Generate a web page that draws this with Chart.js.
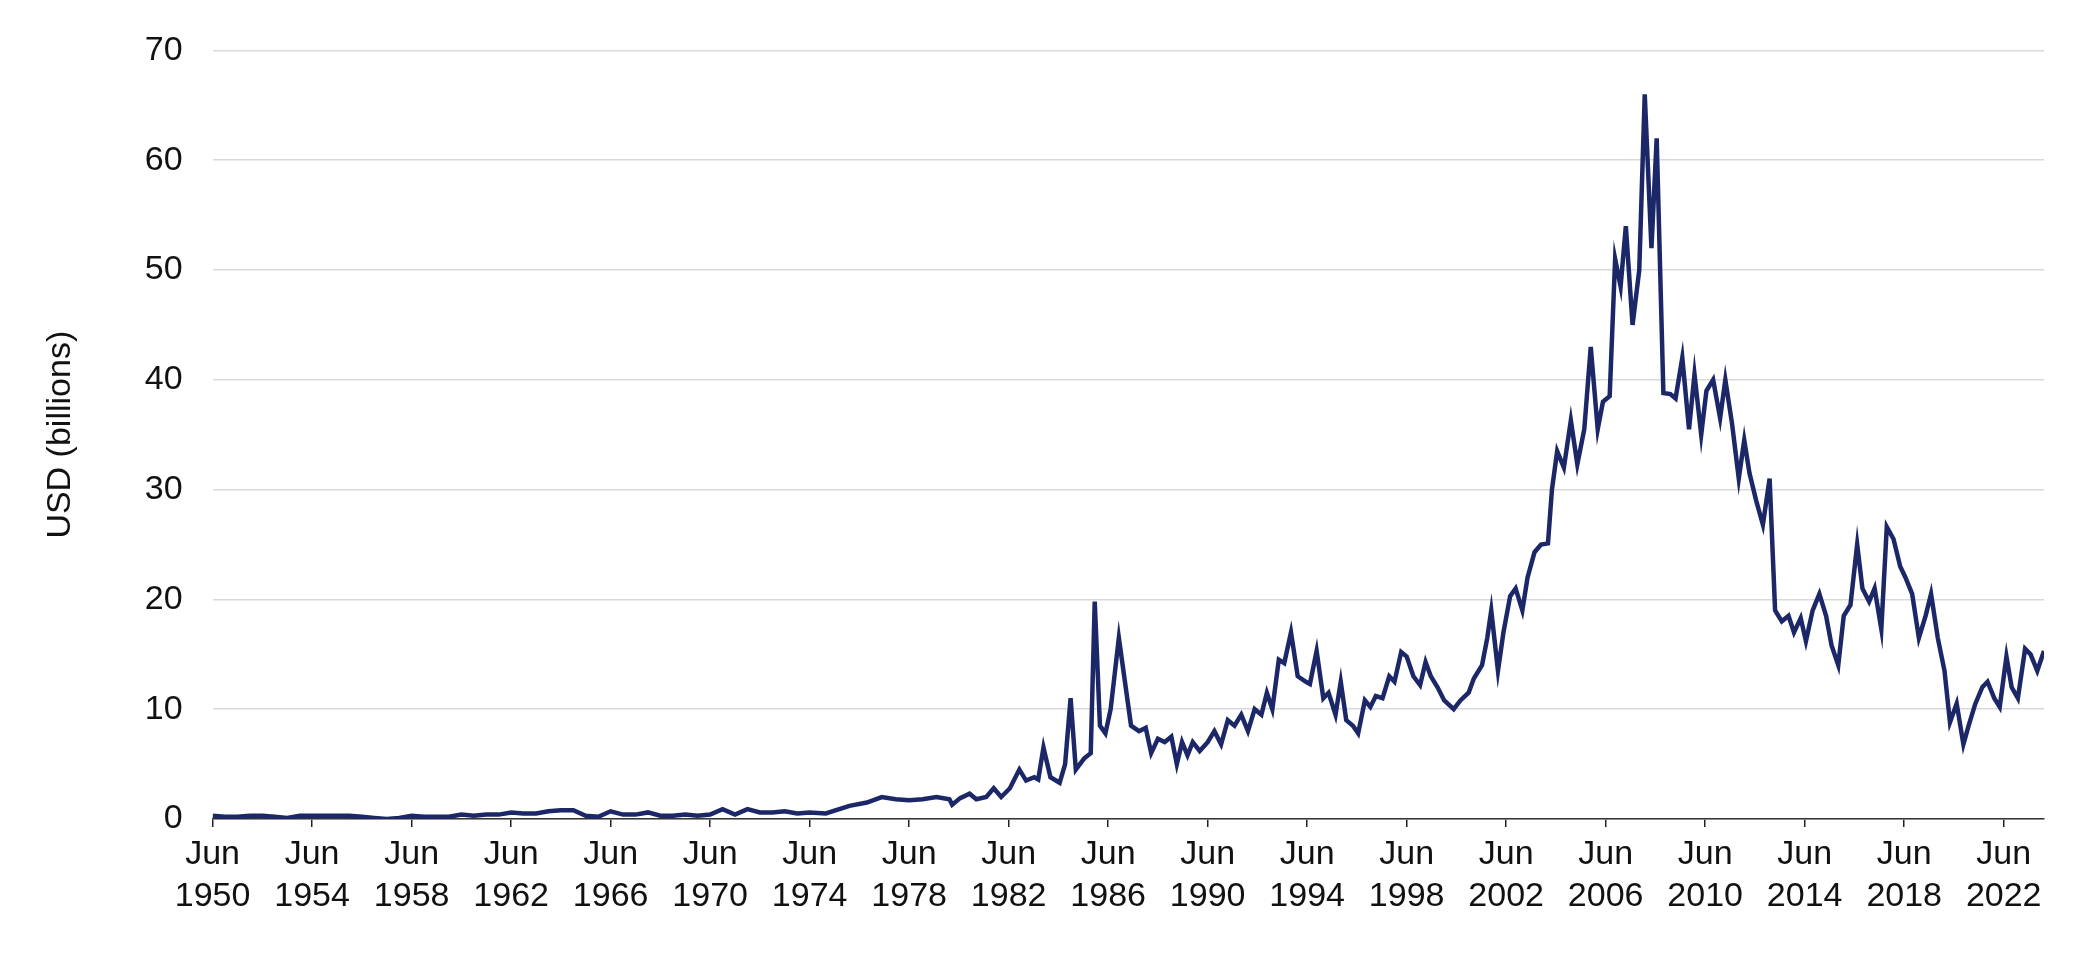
<!DOCTYPE html>
<html><head><meta charset="utf-8">
<script src="https://cdn.jsdelivr.net/npm/chart.js@4/dist/chart.umd.min.js"></script>
<style>html,body{margin:0;padding:0;background:#fff}#wrap{width:2084px;height:958px;position:relative}</style>
</head><body><div id="wrap"><canvas id="c"></canvas></div>
<script>
const dates = [1950.5,1951,1951.5,1952,1952.5,1953,1953.5,1954,1954.5,1955,1955.5,1956,1956.5,1957,1957.5,1958,1958.5,1959,1959.5,1960,1960.5,1961,1961.5,1962,1962.5,1963,1963.5,1964,1964.5,1965,1965.5,1966,1966.5,1967,1967.5,1968,1968.5,1969,1969.5,1970,1970.5,1971,1971.5,1972,1972.5,1973,1973.5,1974,1974.5,
1975.15,1976.1,1976.8,1977.4,1977.96,1978.5,1979.04,1979.6,1980.12,1980.23,1980.55,1980.93,1981.2,1981.6,1981.9,1982.2,1982.55,1982.93,1983.2,1983.53,1983.69,1983.9,1984.18,1984.55,1984.77,1984.99,1985.2,1985.53,1985.8,1985.96,1986.17,1986.39,1986.6,1986.93,1987.42,1987.74,1988.01,1988.23,1988.5,1988.77,1989.04,1989.26,1989.47,1989.69,1989.9,1990.18,1990.5,1990.77,1991.04,1991.31,1991.58,1991.85,1992.12,1992.39,1992.66,1992.88,1993.1,1993.36,1993.58,1993.85,1994.12,1994.45,1994.61,1994.88,1995.15,1995.36,1995.64,1995.85,1996.07,1996.34,1996.55,1996.82,1997.04,1997.26,1997.53,1997.8,1998.01,1998.28,1998.5,1998.77,1999.04,1999.26,1999.47,1999.74,2000.01,2000.39,2000.66,2000.99,2001.2,2001.53,2001.74,2001.9,2002.17,2002.39,2002.66,2002.88,2003.15,2003.36,2003.64,2003.9,2004.18,2004.34,2004.55,2004.82,2005.1,2005.36,2005.64,2005.9,2006.18,2006.39,2006.66,2006.88,2007.1,2007.31,2007.58,2007.85,2008.07,2008.34,2008.55,2008.82,2009.1,2009.31,2009.58,2009.85,2010.07,2010.34,2010.55,2010.82,2011.1,2011.31,2011.58,2011.85,2012.07,2012.28,2012.55,2012.82,2013.09,2013.31,2013.58,2013.85,2014.07,2014.34,2014.55,2014.82,2015.09,2015.36,2015.58,2015.85,2016.07,2016.34,2016.61,2016.82,2017.09,2017.31,2017.58,2017.8,2018.07,2018.34,2018.55,2018.82,2019.09,2019.36,2019.58,2019.85,2020.12,2020.34,2020.61,2020.88,2021.09,2021.36,2021.64,2021.85,2022.12,2022.34,2022.61,2022.82,2023.07,2023.36,2023.58,2023.85,2024.12];
const values = [0.3,0.2,0.2,0.3,0.3,0.2,0.1,0.3,0.3,0.3,0.3,0.3,0.2,0.1,0.0,0.1,0.3,0.2,0.2,0.2,0.4,0.3,0.4,0.4,0.6,0.5,0.5,0.7,0.8,0.8,0.3,0.2,0.7,0.4,0.4,0.6,0.3,0.3,0.4,0.3,0.4,0.9,0.4,0.9,0.6,0.6,0.7,0.5,0.6,
0.5,1.2,1.5,2.0,1.8,1.7,1.8,2.0,1.8,1.3,1.9,2.3,1.8,2.0,2.8,2.0,2.8,4.5,3.5,3.8,3.6,6.5,3.8,3.3,5,11,4.5,5.5,6.0,19.8,8.5,7.8,10,16.5,8.5,8,8.3,6,7.3,7,7.5,5,7,5.8,7,6.2,7,8,6.8,9,8.5,9.5,8,10,9.5,11.5,10,14.5,14.2,17,13,12.5,12.3,15.3,11,11.5,9.5,12.5,9,8.5,7.8,10.8,10.2,11.2,11,13,12.5,15.2,14.8,13,12.2,14.3,13,12,10.8,10,10.8,11.5,12.8,14,16.5,19,13.5,17,20.3,21,19,22,24.3,25,25.1,30,33.5,32,36.3,32.3,35.5,43,35.5,38,38.5,51,48.5,54,45,50,66,52,62,38.8,38.7,38.3,42,35.5,40.5,35,39,40,36.5,40,36,31,34.5,31.5,29,26.8,31,19,18,18.5,17,18.3,16.2,19,20.5,18.5,15.8,14,18.5,19.5,25,21,19.8,21,17.3,26.6,25.5,23,22,20.5,16.5,18.5,20.5,16.5,13.5,8.8,10.5,6.8,8.5,10.5,12,12.5,11,10.2,14.8,12,11,15.5,15,13.5,15.3];
const tickYears = [1950,1954,1958,1962,1966,1970,1974,1978,1982,1986,1990,1994,1998,2002,2006,2010,2014,2018,2022];
const yTicks = [0,10,20,30,40,50,60,70];
const yTitle = 'USD (billions)';

const FONT = "'Liberation Sans',sans-serif";
new Chart(document.getElementById('c'), {
  type: 'line',
  data: { datasets: [{ data: dates.map((d,i)=>({x:d,y:values[i]})), borderColor:'#1c2768', borderWidth:4.5, pointRadius:0, tension:0, fill:false }] },
  options: {
    responsive:true, maintainAspectRatio:false, animation:false,
    layout:{padding:{left:36,right:40,top:48,bottom:34}},
    plugins:{legend:{display:false},tooltip:{enabled:false}},
    scales:{
      x:{type:'linear', min:1950.5, max:dates[dates.length-1],
        afterBuildTicks:(s)=>{s.ticks=tickYears.map(y=>({value:y+0.5}));},
        ticks:{autoSkip:false,maxRotation:0,color:'#111',font:{family:FONT,size:34,lineHeight:1.25},padding:6,
          callback:(v)=>['Jun',String(Math.floor(v))]},
        grid:{display:true,drawOnChartArea:false,drawTicks:true,tickLength:8,color:'#222',lineWidth:1.5},
        border:{display:true,color:'#333',width:1.5}},
      y:{min:0,max:70,
        afterBuildTicks:(s)=>{s.ticks=yTicks.map(v=>({value:v}));},
        ticks:{color:'#111',font:{family:FONT,size:34},padding:30},
        grid:{color:'#d9d9d9',lineWidth:1.5,drawTicks:false},
        border:{display:false},
        title:{display:true,text:yTitle,color:'#111',font:{family:FONT,size:34},padding:{bottom:34}}}
    }
  }
});
</script></body></html>
